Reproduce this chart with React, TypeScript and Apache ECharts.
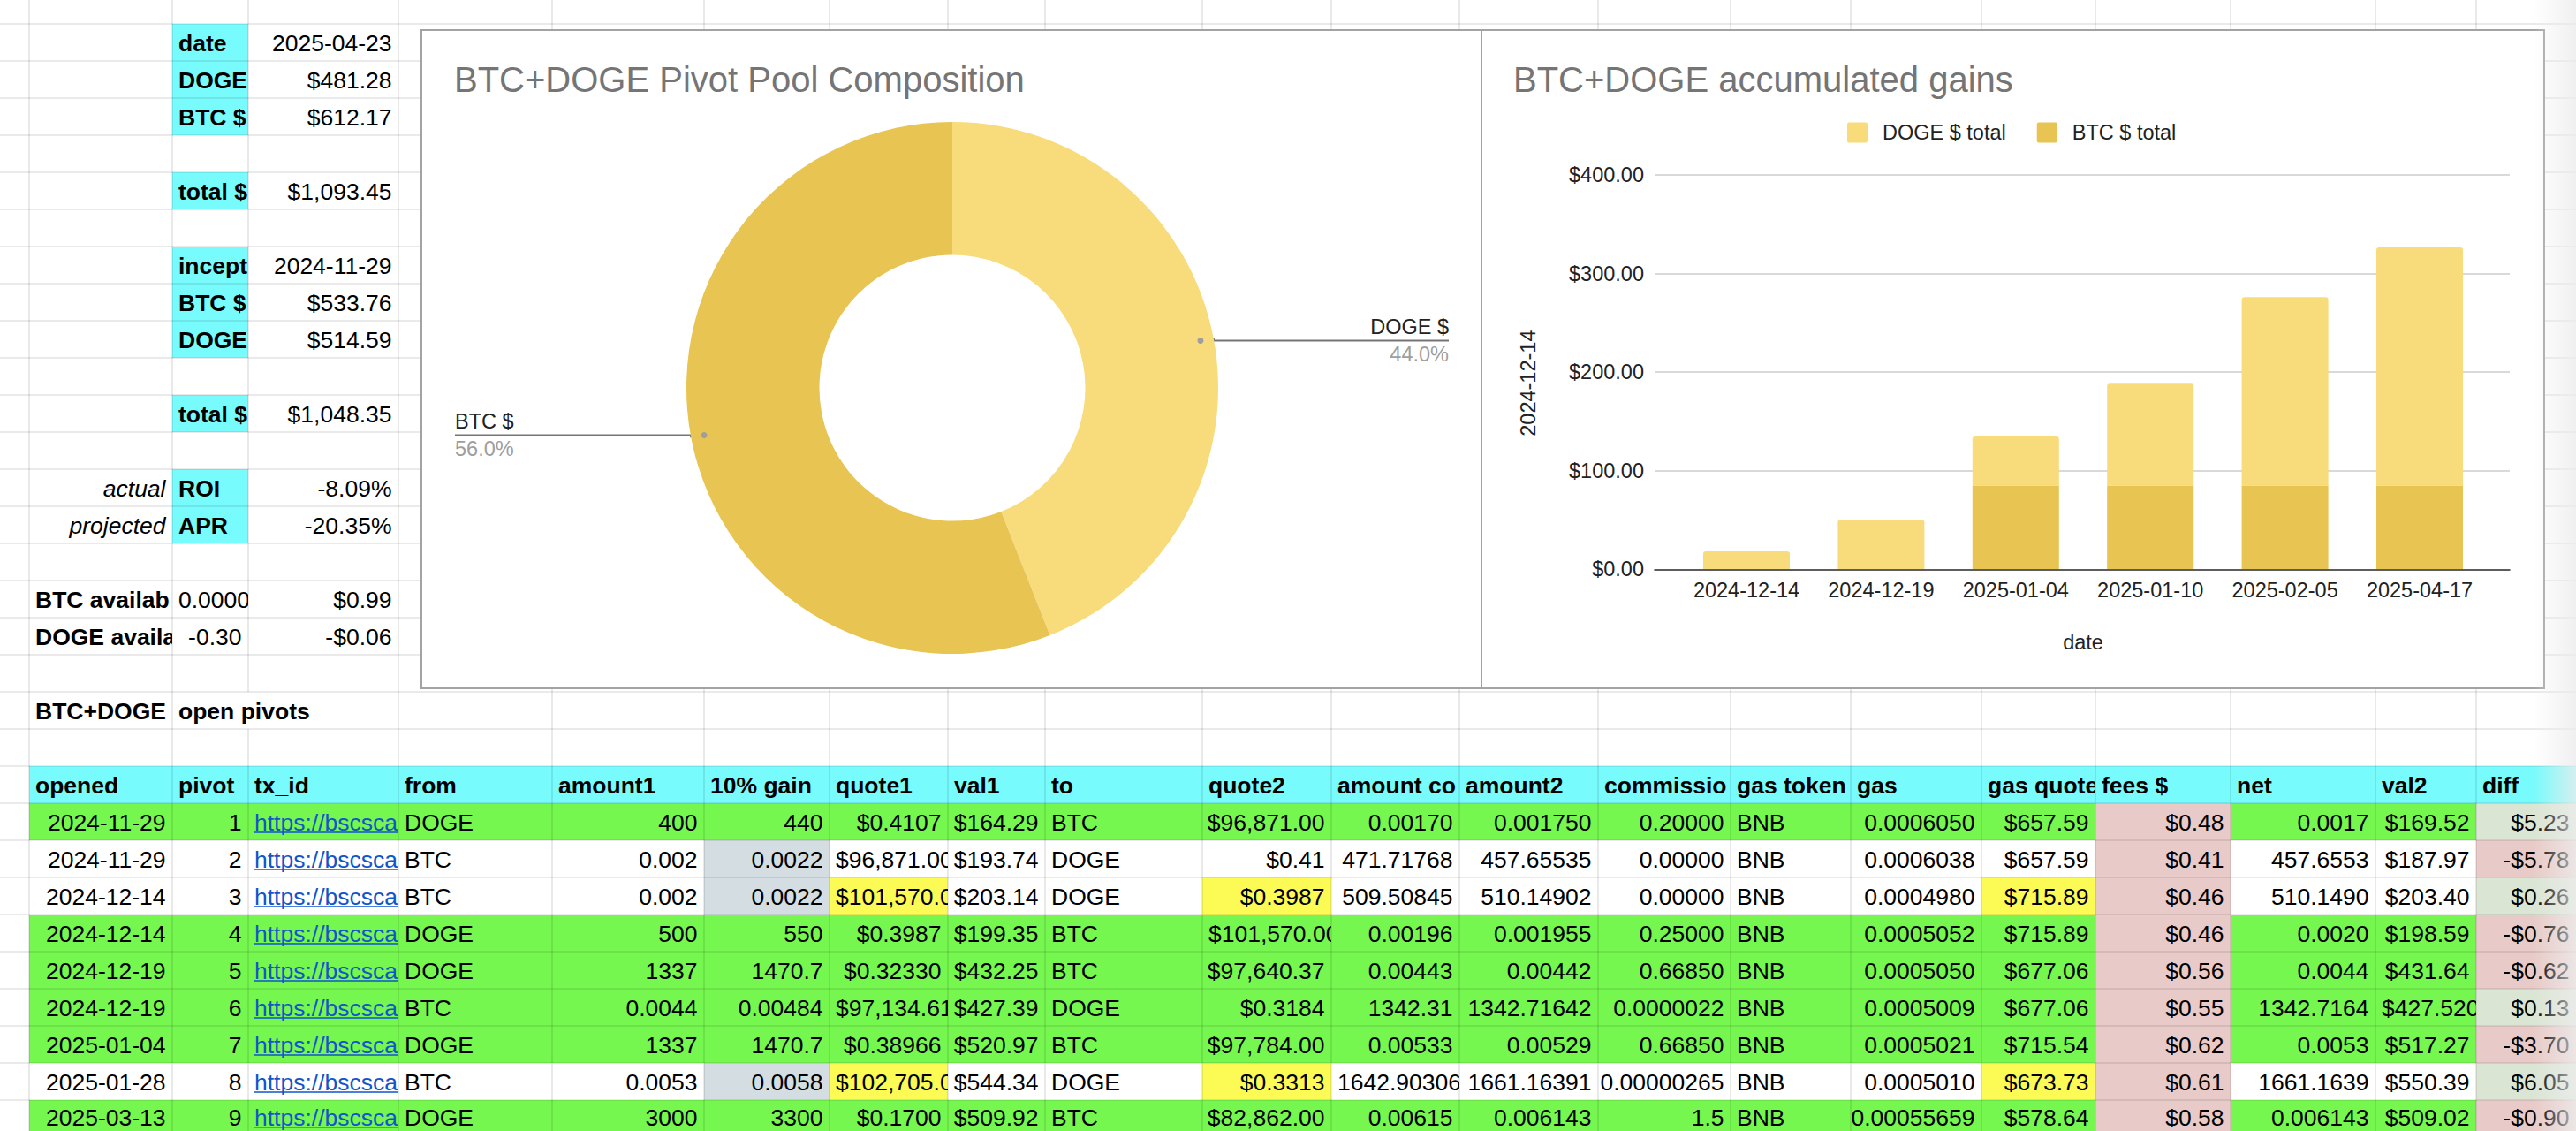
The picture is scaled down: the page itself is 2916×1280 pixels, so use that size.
import React, { useEffect, useRef } from 'react';
import * as echarts from 'echarts';

// ---------------- data ----------------
const pieNames = ['DOGE $', 'BTC $'];
const pieValues = [481.28, 612.17];

const gainDates = ['2024-12-14', '2024-12-19', '2025-01-04', '2025-01-10', '2025-02-05', '2025-04-17'];
const dogeTotals = [18.2, 50.2, 49.8, 103.3, 191.1, 241.4];
const btcTotals = [0, 0, 85.0, 85.0, 85.0, 85.0];

const summaryLabels = ['date', 'DOGE $', 'BTC $', 'total $', 'inception', 'BTC $', 'DOGE $', 'total $', 'ROI', 'APR'];
const summaryValues = ['2025-04-23', '$481.28', '$612.17', '$1,093.45', '2024-11-29', '$533.76', '$514.59', '$1,048.35', '-8.09%', '-20.35%'];
const roiNotes = ['actual', 'projected'];
const availLabels = ['BTC available', 'DOGE available'];
const availAmounts = ['0.0000105', '-0.30'];
const availValues = ['$0.99', '-$0.06'];
const sectionTitle = ['BTC+DOGE', 'open pivots'];

const tableHeaders = ['opened', 'pivot', 'tx_id', 'from', 'amount1', '10% gain', 'quote1', 'val1', 'to', 'quote2', 'amount conv', 'amount2', 'commission', 'gas token', 'gas', 'gas quote', 'fees $', 'net', 'val2', 'diff'];
const opened = ['2024-11-29', '2024-11-29', '2024-12-14', '2024-12-14', '2024-12-19', '2024-12-19', '2025-01-04', '2025-01-28', '2025-03-13'];
const pivots = ['1', '2', '3', '4', '5', '6', '7', '8', '9'];
const txIds = Array.from({ length: 9 }, () => 'https://bscscan.com/tx/');
const fromTokens = ['DOGE', 'BTC', 'BTC', 'DOGE', 'DOGE', 'BTC', 'DOGE', 'BTC', 'DOGE'];
const amount1 = ['400', '0.002', '0.002', '500', '1337', '0.0044', '1337', '0.0053', '3000'];
const gain10 = ['440', '0.0022', '0.0022', '550', '1470.7', '0.00484', '1470.7', '0.0058', '3300'];
const quote1 = ['$0.4107', '$96,871.00', '$101,570.00', '$0.3987', '$0.32330', '$97,134.61', '$0.38966', '$102,705.00', '$0.1700'];
const val1 = ['$164.29', '$193.74', '$203.14', '$199.35', '$432.25', '$427.39', '$520.97', '$544.34', '$509.92'];
const toTokens = ['BTC', 'DOGE', 'DOGE', 'BTC', 'BTC', 'DOGE', 'BTC', 'DOGE', 'BTC'];
const quote2 = ['$96,871.00', '$0.41', '$0.3987', '$101,570.00', '$97,640.37', '$0.3184', '$97,784.00', '$0.3313', '$82,862.00'];
const amountConv = ['0.00170', '471.71768', '509.50845', '0.00196', '0.00443', '1342.31', '0.00533', '1642.90306', '0.00615'];
const amount2 = ['0.001750', '457.65535', '510.14902', '0.001955', '0.00442', '1342.71642', '0.00529', '1661.16391', '0.006143'];
const commission = ['0.20000', '0.00000', '0.00000', '0.25000', '0.66850', '0.0000022', '0.66850', '0.00000265', '1.5'];
const gasToken = ['BNB', 'BNB', 'BNB', 'BNB', 'BNB', 'BNB', 'BNB', 'BNB', 'BNB'];
const gas = ['0.0006050', '0.0006038', '0.0004980', '0.0005052', '0.0005050', '0.0005009', '0.0005021', '0.0005010', '0.00055659'];
const gasQuote = ['$657.59', '$657.59', '$715.89', '$715.89', '$677.06', '$677.06', '$715.54', '$673.73', '$578.64'];
const fees = ['$0.48', '$0.41', '$0.46', '$0.46', '$0.56', '$0.55', '$0.62', '$0.61', '$0.58'];
const net = ['0.0017', '457.6553', '510.1490', '0.0020', '0.0044', '1342.7164', '0.0053', '1661.1639', '0.006143'];
const val2 = ['$169.52', '$187.97', '$203.40', '$198.59', '$431.64', '$427.5200', '$517.27', '$550.39', '$509.02'];
const diff = ['$5.23', '-$5.78', '$0.26', '-$0.76', '-$0.62', '$0.13', '-$3.70', '$6.05', '-$0.90'];
const rowClosed = [true, false, false, true, true, true, true, false, true];
const highlighted = [[], [], [6, 9, 15], [], [], [], [], [6, 9, 15], []];

// ---------------- layout / style ----------------
const FONT = '"Liberation Sans", Arial, Helvetica, sans-serif';
const CELL_FS = 26.5;
const CHART_FS = 23.5;
const TITLE_FS = 40;
const COL_X = [0, 33, 195, 281, 451, 625, 797, 939, 1073, 1183, 1361, 1507, 1652, 1809, 1959, 2095, 2243, 2372, 2525, 2689, 2803, 2916];
const ROW_Y0 = 27;
const ROW_H = 42;
const ROW_COUNT = 31;
const PAGE_H = 1280;
const rowTop = (r: number) => ROW_Y0 + ROW_H * (r - 1);
const SUMMARY_ROWS = [1, 2, 3, 5, 7, 8, 9, 11, 13, 14];
const NOTE_ROWS = [13, 14];
const AVAIL_ROWS = [16, 17];
const TITLE_ROW = 19;
const HEADER_ROW = 21;

const C_CYAN = '#78fbfc';
const C_GREEN = '#76f74f';
const C_YELLOW = '#fcfa55';
const C_GREYBLUE = '#d3dde2';
const C_PINK = '#e8cbc8';
const C_PALEGREEN = '#dbe5d4';
const C_LINK = '#1155cc';
const GRID_LINE = 'rgba(0,0,0,0.11)';

const PIE_BOX = { x: 477, y: 34, w: 1201, h: 745 };
const BAR_BOX = { x: 1677, y: 34, w: 1203, h: 745 };
const PIE_CX = 1078;
const PIE_CY = 439;
const PIE_R = 301;
const PIE_R0 = 150.5;
const PIE_COLORS = ['#f8db7a', '#e8c452'];

type Cell = {
  r: number; c: number; text: string; align?: 'left' | 'right'; bold?: boolean; italic?: boolean;
  fill?: string; color?: string; link?: boolean; spill?: boolean;
};

function buildOption() {
  const ctx = document.createElement('canvas').getContext('2d') as CanvasRenderingContext2D;
  const measure = (t: string, size: number, bold = false, italic = false) => {
    ctx.font = `${italic ? 'italic ' : ''}${bold ? 'bold ' : ''}${size}px ${FONT}`;
    return ctx.measureText(t).width;
  };

  const cells: Cell[] = [];
  summaryLabels.forEach((t, i) => {
    const r = SUMMARY_ROWS[i];
    cells.push({ r, c: 2, text: t, bold: true, fill: C_CYAN });
    cells.push({ r, c: 3, text: summaryValues[i], align: 'right' });
  });
  roiNotes.forEach((t, i) => cells.push({ r: NOTE_ROWS[i], c: 1, text: t, italic: true, align: 'right' }));
  availLabels.forEach((t, i) => {
    const r = AVAIL_ROWS[i];
    cells.push({ r, c: 1, text: t, bold: true });
    cells.push({ r, c: 2, text: availAmounts[i], align: 'right' });
    cells.push({ r, c: 3, text: availValues[i], align: 'right' });
  });
  cells.push({ r: TITLE_ROW, c: 1, text: sectionTitle[0], bold: true });
  cells.push({ r: TITLE_ROW, c: 2, text: sectionTitle[1], bold: true, spill: true });
  tableHeaders.forEach((h, j) => cells.push({ r: HEADER_ROW, c: j + 1, text: h, bold: true, fill: C_CYAN }));

  const columns = [opened, pivots, txIds, fromTokens, amount1, gain10, quote1, val1, toTokens, quote2,
    amountConv, amount2, commission, gasToken, gas, gasQuote, fees, net, val2, diff];
  const leftCols = [2, 3, 8, 13];
  opened.forEach((_, i) => {
    const r = HEADER_ROW + 1 + i;
    const closed = rowClosed[i];
    columns.forEach((col, j) => {
      let fill: string | undefined = closed ? C_GREEN : undefined;
      if (j === 5 && !closed) fill = C_GREYBLUE;
      if ((highlighted[i] as number[]).includes(j)) fill = C_YELLOW;
      if (j === 16) fill = C_PINK;
      if (j === 19) fill = col[i].startsWith('-') ? C_PINK : C_PALEGREEN;
      cells.push({
        r, c: j + 1, text: col[i], align: leftCols.includes(j) ? 'left' : 'right', fill,
        link: j === 2, color: j === 2 ? C_LINK : undefined,
      });
    });
  });

  // cells are painted row by row, left to right: a cell's background hides the
  // part of its left neighbour's text that runs over, as a spreadsheet clips it;
  // characters that would start past the cell's edge are dropped.
  cells.sort((a, b) => (a.r - b.r) || (a.c - b.c));
  const cellEls: any[] = [];
  const maxTextY = PAGE_H - 0.56 * CELL_FS - 0.6;
  cells.forEach((cell) => {
    const left = COL_X[cell.c];
    const right = COL_X[cell.c + 1];
    const top = rowTop(cell.r);
    cellEls.push({
      type: 'rect', silent: true, z: -1,
      shape: { x: left, y: top, width: right - left, height: ROW_H },
      style: { fill: cell.fill || '#ffffff' },
    });
    const w = measure(cell.text, CELL_FS, cell.bold, cell.italic);
    const padL = 7, padR = 7.5;
    let align = cell.align || 'left';
    let x = align === 'right' ? right - padR : left + padL;
    if (align === 'right' && w > right - left - padR + 1) {
      align = 'left';
      x = left + padL;
    }
    let shown = cell.text;
    if (align === 'left' && !cell.spill && x + w > right) {
      let out = '';
      for (const ch of cell.text) {
        if (x + measure(out, CELL_FS, cell.bold, cell.italic) >= right - 5) break;
        out += ch;
      }
      shown = out.replace(/\s+$/, '');
    }
    const sw = measure(shown, CELL_FS, cell.bold, cell.italic);
    const ty = Math.min(top + 21.8, maxTextY);
    cellEls.push({
      type: 'text', silent: true, z: -1, x, y: ty,
      style: {
        text: shown, fill: cell.color || '#000', fontSize: CELL_FS, fontFamily: FONT,
        fontWeight: cell.bold ? 'bold' : 'normal', fontStyle: cell.italic ? 'italic' : 'normal',
        align, verticalAlign: 'middle', textAlign: align, textVerticalAlign: 'middle',
      },
    });
    if (cell.link) {
      const ux2 = Math.min(x + sw, right);
      cellEls.push({
        type: 'line', silent: true, z: -1,
        shape: { x1: x, y1: ty + 11.2, x2: ux2, y2: ty + 11.2 },
        style: { stroke: C_LINK, lineWidth: 1.6 },
      });
    }
  });

  // grid lines
  const lines: any[] = [];
  for (let k = 0; k < ROW_COUNT; k++) {
    const y = ROW_Y0 + ROW_H * k;
    lines.push({ type: 'line', silent: true, z: -1, shape: { x1: 0, y1: y, x2: 2916, y2: y }, style: { stroke: GRID_LINE, lineWidth: 1.6 } });
  }
  for (let c = 1; c < COL_X.length - 1; c++) {
    const x = COL_X[c];
    const segs = c === 3 ? [[0, rowTop(TITLE_ROW)], [rowTop(TITLE_ROW + 1), PAGE_H]] : [[0, PAGE_H]];
    segs.forEach(([a, b]) => {
      lines.push({ type: 'line', silent: true, z: -1, shape: { x1: x, y1: a, x2: x, y2: b }, style: { stroke: GRID_LINE, lineWidth: 1.6 } });
    });
  }

  const boxes = [PIE_BOX, BAR_BOX].map((b) => ({
    type: 'rect', silent: true, z: -1,
    shape: { x: b.x, y: b.y, width: b.w, height: b.h },
    style: { fill: '#ffffff', stroke: '#a3a3a3', lineWidth: 2 },
  }));

  // pie label anchor dots, placed from the data
  const total = pieValues.reduce((a, b) => a + b, 0);
  let acc = 0;
  const dots: any[] = [];
  const pcts = pieValues.map((v) => ((v / total) * 100).toFixed(1) + '%');
  pieValues.forEach((v) => {
    const mid = ((acc + v / 2) / total) * Math.PI * 2;
    acc += v;
    dots.push({
      type: 'circle', silent: true, z: 5,
      shape: { cx: PIE_CX + (PIE_R - 15) * Math.sin(mid), cy: PIE_CY - (PIE_R - 15) * Math.cos(mid), r: 3.5 },
      style: { fill: '#9e9e9e' },
    });
  });
  const labelW = pieNames.map((n, i) => Math.max(measure(n, CHART_FS), measure(pcts[i], CHART_FS)));

  const shade = {
    type: 'rect', silent: true, z: 10,
    shape: { x: 2868, y: 0, width: 48, height: PAGE_H },
    style: {
      fill: {
        type: 'linear', x: 0, y: 0, x2: 1, y2: 0,
        colorStops: [{ offset: 0, color: 'rgba(236,236,236,0)' }, { offset: 1, color: 'rgba(236,236,236,0.8)' }],
      },
    },
  };

  const axisText = { fontSize: CHART_FS, color: '#222', fontFamily: FONT, lineHeight: CHART_FS };
  const titleTop = 104.3 - 0.3465 * TITLE_FS - TITLE_FS / 2;

  return {
    animation: false,
    backgroundColor: '#ffffff',
    textStyle: { fontFamily: FONT },
    graphic: { elements: [...cellEls, ...lines, ...boxes, ...dots, shade] },
    title: [
      { text: 'BTC+DOGE Pivot Pool Composition', left: 514, top: titleTop, padding: 0,
        textStyle: { fontSize: TITLE_FS, fontWeight: 'normal', color: '#757575', fontFamily: FONT, lineHeight: TITLE_FS } },
      { text: 'BTC+DOGE accumulated gains', left: 1713, top: titleTop, padding: 0,
        textStyle: { fontSize: TITLE_FS, fontWeight: 'normal', color: '#757575', fontFamily: FONT, lineHeight: TITLE_FS } },
    ],
    legend: {
      data: ['DOGE $ total', 'BTC $ total'], left: 2091, top: 138, padding: 0, selectedMode: false,
      itemWidth: 23, itemHeight: 23, itemGap: 35,
      icon: 'path://M2,0H21A2,2 0 0 1 23,2V21A2,2 0 0 1 21,23H2A2,2 0 0 1 0,21V2A2,2 0 0 1 2,0Z',
      textStyle: { fontSize: CHART_FS, color: '#222', fontFamily: FONT, padding: [0, 0, 0, 12] },
    },
    grid: [
      { left: 1873, top: 198, width: 968, height: 446.3 },
      { left: 1900.8, top: 198, width: 914.4, height: 446.3 },
    ],
    xAxis: [
      { gridIndex: 0, type: 'category', data: [''], z: 3,
        axisLine: { show: true, lineStyle: { color: '#333333', width: 1.6 } },
        axisTick: { show: false }, axisLabel: { show: false }, splitLine: { show: false } },
      { gridIndex: 1, type: 'category', data: gainDates,
        axisLine: { show: false }, axisTick: { show: false }, splitLine: { show: false },
        axisLabel: { ...axisText, interval: 0, margin: 11.5 },
        name: 'date', nameLocation: 'middle', nameGap: 70.5, nameTextStyle: axisText },
    ],
    yAxis: [
      { gridIndex: 0, type: 'value', min: 0, max: 400, interval: 100,
        axisLine: { show: false }, axisTick: { show: false },
        axisLabel: { ...axisText, margin: 12, formatter: (v: number) => '$' + v.toFixed(2) },
        splitLine: { show: true, lineStyle: { color: '#cccccc', width: 1.6 } },
        name: '2024-12-14', nameLocation: 'middle', nameRotate: 90, nameGap: 131.7,
        nameTextStyle: { ...axisText, padding: [0, 25, 0, 0] } },
      { gridIndex: 1, type: 'value', min: 0, max: 400, interval: 100, show: false },
    ],
    series: [
      {
        type: 'pie', name: 'composition',
        left: PIE_BOX.x, top: PIE_BOX.y, width: PIE_BOX.w, height: PIE_BOX.h,
        center: [PIE_CX - PIE_BOX.x, PIE_CY - PIE_BOX.y], radius: [PIE_R0, PIE_R],
        startAngle: 90, clockwise: true, percentPrecision: 1, silent: true,
        emphasis: { disabled: true },
        data: pieNames.map((n, i) => ({
          name: n, value: pieValues[i], itemStyle: { color: PIE_COLORS[i] },
          label: { distanceToLabelLine: -labelW[i] },
        })),
        label: {
          show: true, position: 'outside', alignTo: 'edge', edgeDistance: 38,
          formatter: (p: any) => `{n|${p.name}}\n{p|${Number(p.percent).toFixed(1)}%}`,
          rich: {
            n: { fontSize: CHART_FS, color: '#222', lineHeight: 31, fontFamily: FONT },
            p: { fontSize: CHART_FS, color: '#9e9e9e', lineHeight: 31, fontFamily: FONT },
          },
        },
        labelLine: { show: true, length: -15, length2: 0, smooth: false, lineStyle: { color: '#757575', width: 2 } },
      },
      {
        type: 'bar', name: 'BTC $ total', xAxisIndex: 1, yAxisIndex: 1, stack: 'gains',
        data: btcTotals, barWidth: 98, itemStyle: { color: '#e8c452' }, silent: true,
      },
      {
        type: 'bar', name: 'DOGE $ total', xAxisIndex: 1, yAxisIndex: 1, stack: 'gains',
        data: dogeTotals, barWidth: 98, itemStyle: { color: '#f8db7a', borderRadius: [3, 3, 0, 0] }, silent: true,
      },
    ],
  };
}

export default function App() {
  const ref = useRef<HTMLDivElement>(null);
  useEffect(() => {
    if (!ref.current) return;
    const chart = echarts.init(ref.current, undefined, { renderer: 'svg', width: 2916, height: PAGE_H });
    chart.setOption(buildOption() as any);
    return () => chart.dispose();
  }, []);
  return (
    <div
      ref={ref}
      style={{ position: 'fixed', left: 0, top: 0, width: 2916, height: PAGE_H, background: '#fff' }}
    />
  );
}
